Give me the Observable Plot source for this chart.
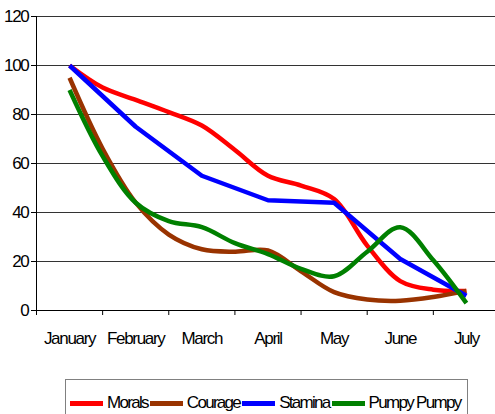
<!DOCTYPE html>
<html>
<head>
<meta charset="utf-8">
<script src="https://cdn.jsdelivr.net/npm/d3@7"></script>
<script src="https://cdn.jsdelivr.net/npm/@observablehq/plot@0.6"></script>
<style>
  html, body { margin: 0; padding: 0; background: #fff; }
  body { width: 495px; height: 414px; overflow: hidden; font-family: "Liberation Sans", Arial, sans-serif; }
  #legend {
    margin-left: 65px; margin-top: 19px; width: 403px; height: 48px; box-sizing: border-box;
    border: 1px solid #808080; display: flex; align-items: center; padding-left: 4px;
    font-size: 17px; letter-spacing: -1.7px; color: #000; white-space: nowrap;
  }
  #legend .item { display: flex; align-items: center; margin-right: 2px; white-space: nowrap; }
  #legend .sw { width: 33px; height: 5px; margin-right: 4px; flex: none; }
</style>
</head>
<body>
<div id="chart"></div>
<div id="legend"></div>
<script>
// Categories
const months = ["January", "February", "March", "April", "May", "June", "July"];
// Month positions (0 = January) at which values were read, half-month steps
const halfMonths = [0, 0.5, 1, 1.5, 2, 2.5, 3, 3.5, 4, 4.5, 5, 5.5, 6];
const monthIdx = [0, 1, 2, 3, 4, 5, 6];
// Series values
const morals  = [100, 91, 86, 81, 75.5, 65.5, 55, 51, 45.5, 26.5, 12, 8.5, 8];
const courage = [95, 66, 44, 31, 25, 24, 24.5, 16, 7.5, 4.5, 4, 5.5, 8];
const stamina = [100, 75, 55, 45, 44, 21, 6];           // monthly
const pumpy   = [90, 63, 44, 36.5, 34, 27.5, 23, 17, 14, 24, 34, 20.5, 3];
// Y tick labels
const yTicks = [0, 20, 40, 60, 80, 100, 120];

const seriesNames = ["Morals", "Courage", "Stamina", "Pumpy Pumpy"];
const colors = ["#FF0000", "#993300", "#0000FF", "#008000"];

const series = [
  {name: "Morals", xs: halfMonths, ys: morals, curve: "catmull-rom"},
  {name: "Courage", xs: halfMonths, ys: courage, curve: "catmull-rom"},
  {name: "Stamina", xs: monthIdx, ys: stamina, curve: "linear"},
  {name: "Pumpy Pumpy", xs: halfMonths, ys: pumpy, curve: "catmull-rom"}
];

const boundaries = monthIdx.map(i => i - 0.5);

const lineMarks = series.map((s, k) =>
  Plot.line(s.ys.map((v, i) => ({x: s.xs[i], y: v, s: s.name})), {
    x: "x", y: "y", stroke: colors[k], strokeWidth: 4.5, curve: s.curve,
    strokeLinecap: "butt", strokeLinejoin: "round"
  })
);

const chart = Plot.plot({
  width: 495,
  height: 360,
  marginLeft: 36,
  marginRight: 0,
  marginTop: 16,
  marginBottom: 50,
  style: {fontFamily: "'Liberation Sans', Arial, sans-serif", fontSize: "17px", color: "#000", background: "#fff"},
  x: {domain: [-0.5, 6.44], label: null},
  y: {domain: [0, 120], label: null},
  marks: [
    Plot.ruleY(yTicks, {stroke: "#333", strokeWidth: 1}),
    Plot.ruleY([0], {stroke: "#000", strokeWidth: 1}),
    Plot.ruleX([-0.5], {y1: 0, y2: 120, stroke: "#000", strokeWidth: 1}),
    Plot.axisY({ticks: yTicks, tickSize: 5, tickPadding: 3, label: null, fontSize: 17}),
    Plot.axisX({ticks: boundaries, tickSize: 5, tickFormat: () => "", label: null}),
    Plot.axisX({ticks: monthIdx, tickSize: 0, tickPadding: 21, tickFormat: i => months[i], label: null, fontSize: 17}),
    ...lineMarks
  ]
});
d3.select(chart).selectAll("text").style("letter-spacing", "-1.3px");
document.getElementById("chart").appendChild(chart);

const legend = d3.select("#legend");
seriesNames.forEach((n, k) => {
  const it = legend.append("div").attr("class", "item");
  it.append("div").attr("class", "sw").style("background", colors[k]);
  it.append("span").text(n);
});
</script>
</body>
</html>
